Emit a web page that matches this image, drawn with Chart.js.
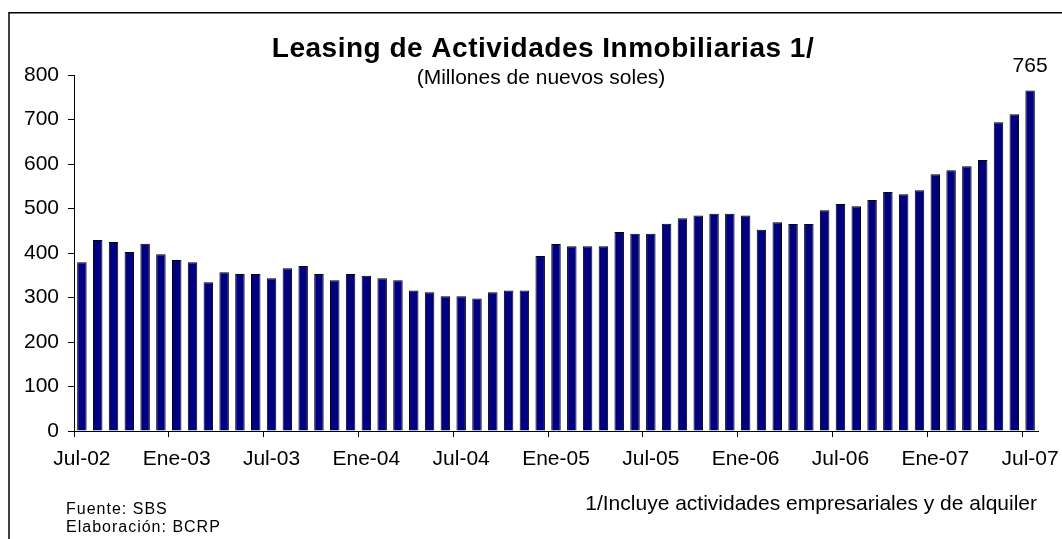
<!DOCTYPE html>
<html>
<head>
<meta charset="utf-8">
<script src="https://cdn.jsdelivr.net/npm/chart.js@4.4.0/dist/chart.umd.min.js"></script>
<style>
  html, body { margin: 0; padding: 0; background: #fff; }
  #wrap { position: relative; width: 1062px; height: 539px; }
</style>
</head>
<body>
<div id="wrap"><canvas id="c" width="1062" height="539"></canvas></div>
<script>
const categories = [
  'Jul-02','Ago-02','Set-02','Oct-02','Nov-02','Dic-02',
  'Ene-03','Feb-03','Mar-03','Abr-03','May-03','Jun-03',
  'Jul-03','Ago-03','Set-03','Oct-03','Nov-03','Dic-03',
  'Ene-04','Feb-04','Mar-04','Abr-04','May-04','Jun-04',
  'Jul-04','Ago-04','Set-04','Oct-04','Nov-04','Dic-04',
  'Ene-05','Feb-05','Mar-05','Abr-05','May-05','Jun-05',
  'Jul-05','Ago-05','Set-05','Oct-05','Nov-05','Dic-05',
  'Ene-06','Feb-06','Mar-06','Abr-06','May-06','Jun-06',
  'Jul-06','Ago-06','Set-06','Oct-06','Nov-06','Dic-06',
  'Ene-07','Feb-07','Mar-07','Abr-07','May-07','Jun-07',
  'Jul-07'
];
const leasingValues = [
  379,429,425,402,421,397,
  384,379,334,357,353,353,
  343,366,371,353,339,353,
  349,343,339,316,312,303,
  303,298,312,316,316,393,
  420,415,415,415,447,443,
  443,466,478,484,488,488,
  484,452,469,465,465,496,
  510,505,519,537,532,541,
  577,586,595,609,694,712,
  765
];
const shownTickLabels = ['Jul-02','Ene-03','Jul-03','Ene-04','Jul-04','Ene-05','Jul-05','Ene-06','Jul-06','Ene-07','Jul-07'];
const yTicks = [0,100,200,300,400,500,600,700,800];
const titleText = 'Leasing de Actividades Inmobiliarias 1/';
const subtitleText = '(Millones de nuevos soles)';
const noteText = '1/Incluye actividades empresariales y de alquiler';
const sourceText = 'Fuente: SBS';
const elabText = 'Elaboración: BCRP';
const labeledValue = 765;

const FONT = '"Liberation Sans", Arial, sans-serif';

const textPlugin = {
  id: 'texts',
  afterDraw(chart) {
    const ctx = chart.ctx;
    ctx.save();
    // frame
    ctx.strokeStyle = '#000';
    ctx.lineWidth = 1.5;
    ctx.beginPath();
    ctx.moveTo(9, 539);
    ctx.lineTo(9, 12.75);
    ctx.lineTo(1062, 12.75);
    ctx.stroke();

    ctx.fillStyle = '#000';
    ctx.textBaseline = 'alphabetic';
    ctx.textAlign = 'center';
    ctx.font = 'bold 28px ' + FONT;
    try { ctx.letterSpacing = '0.5px'; } catch (e) {}
    ctx.fillText(titleText, 543, 57);
    try { ctx.letterSpacing = '0px'; } catch (e) {}
    ctx.font = '21px ' + FONT;
    ctx.fillText(subtitleText, 541, 84);

    // value label on last bar
    const meta = chart.getDatasetMeta(0);
    const last = meta.data[meta.data.length - 1];
    ctx.font = '21px ' + FONT;
    ctx.fillText(String(labeledValue), last.x, last.y - 19);

    ctx.textAlign = 'right';
    ctx.fillText(noteText, 1037, 510);

    ctx.textAlign = 'left';
    ctx.font = '16px ' + FONT;
    try { ctx.letterSpacing = '1px'; } catch (e) {}
    ctx.fillText(sourceText, 66, 514);
    ctx.fillText(elabText, 66, 532);
    try { ctx.letterSpacing = '0px'; } catch (e) {}
    ctx.restore();
  }
};

new Chart(document.getElementById('c'), {
  type: 'bar',
  data: {
    labels: categories,
    datasets: [{
      data: leasingValues,
      backgroundColor: '#000080',
      borderColor: '#000000',
      borderWidth: 1,
      barPercentage: 0.6,
      categoryPercentage: 1.0
    }]
  },
  options: {
    responsive: false,
    animation: false,
    devicePixelRatio: 1,
    layout: { padding: { left: 0, right: 24, top: 75, bottom: 68 } },
    plugins: { legend: { display: false }, tooltip: { enabled: false }, title: { display: false } },
    scales: {
      x: {
        offset: true,
        grid: {
          offset: true,
          drawOnChartArea: false,
          tickLength: 6,
          tickWidth: 1,
          tickColor: (c) => (c.index % 6 === 0 ? '#000' : 'rgba(0,0,0,0)'),
          color: (c) => (c.index % 6 === 0 ? '#000' : 'rgba(0,0,0,0)')
        },
        border: { display: true, color: '#000', width: 1 },
        ticks: {
          autoSkip: false,
          maxRotation: 0,
          minRotation: 0,
          padding: 10,
          color: '#000',
          font: { family: FONT, size: 21 },
          callback: function (v, i) {
            const lab = categories[i];
            return shownTickLabels.includes(lab) ? lab : '';
          }
        },
        afterFit: (a) => { a.height = 40; a.paddingLeft = 0; a.paddingRight = 0; }
      },
      y: {
        min: 0,
        max: 800,
        afterBuildTicks: (a) => { a.ticks = yTicks.map(v => ({ value: v })); },
        grid: { drawOnChartArea: false, tickLength: 6, color: '#000', tickColor: '#000' },
        border: { display: true, color: '#000', width: 1 },
        ticks: { padding: 9, color: '#000', font: { family: FONT, size: 21 } },
        afterFit: (a) => { a.width = 74; a.paddingTop = 0; a.paddingBottom = 0; }
      }
    }
  },
  plugins: [textPlugin]
});
</script>
</body>
</html>
